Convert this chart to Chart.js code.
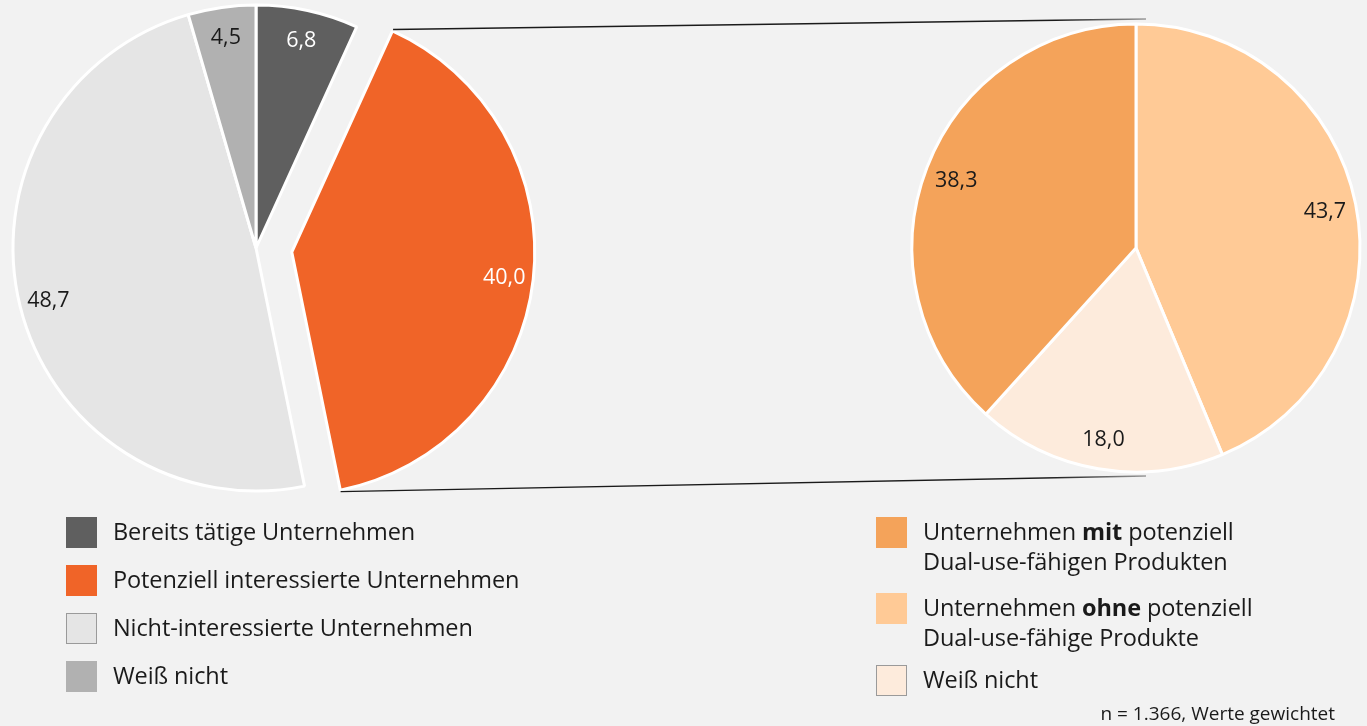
<!DOCTYPE html>
<html lang="de">
<head>
<meta charset="utf-8">
<script src="https://cdn.jsdelivr.net/npm/chart.js@4"></script>
<style>
  html,body{margin:0;padding:0;background:#f2f2f2;}
  body{width:1367px;height:726px;position:relative;overflow:hidden;font-family:"Open Sans",sans-serif;color:#1a1a1a;}
  .wrap{position:absolute;left:0;top:0;width:1367px;height:726px;}
  .legend{position:absolute;font-size:23.5px;letter-spacing:-0.1px;}
  .legend .item{position:absolute;left:0;white-space:nowrap;}
  .legend .box{position:absolute;left:0;top:0;width:29px;height:29px;border:1px solid;}
  .legend .txt{position:absolute;left:47px;top:-1px;line-height:30px;}
  #note{position:absolute;right:32px;top:700px;font-size:19px;line-height:26px;}
</style>
</head>
<body>
<div class="wrap"><canvas id="chartL"></canvas></div>
<div class="wrap"><canvas id="chartR"></canvas></div>
<div class="legend" id="legL" style="left:66px;top:517px;"></div>
<div class="legend" id="legR" style="left:876px;top:517px;"></div>
<div id="note">n = 1.366, Werte gewichtet</div>
<script>
// left pie: all companies
const leftLabels = ["Bereits tätige Unternehmen","Potenziell interessierte Unternehmen","Nicht-interessierte Unternehmen","Weiß nicht"];
const leftValues = [6.8, 40.0, 48.7, 4.5];
const leftColors = ["#5f5f5f","#f06428","#e5e5e5","#b1b1b1"];
const leftBorders = ["#5f5f5f","#f06428","#9a9a9a","#b1b1b1"];
const leftTextColors = ["#ffffff","#ffffff","#1a1a1a","#1a1a1a"];
// right pie: breakdown of the interested ones (clockwise from top)
const rightLabels = [["Unternehmen ","ohne"," potenziell","Dual-use-fähige Produkte"],["Weiß nicht","","",""],["Unternehmen ","mit"," potenziell","Dual-use-fähigen Produkten"]];
const rightValues = [43.7, 18.0, 38.3];
const rightColors = ["#ffca96","#fdebdc","#f4a35a"];
const rightBorders = ["#ffca96","#9a9a9a","#f4a35a"];
const rightLegendOrder = [2, 0, 1];
const explode = [0, 36, 0, 0];

Chart.defaults.font.family = "'Open Sans', sans-serif";

function fmt(v){ return v.toFixed(1).replace(".", ","); }

// shift exploded slices after every update
const explodePlugin = {
  id: "explode",
  afterDatasetUpdate(chart, args, opts){
    if ( !opts.offsets ) return;
    let meta = chart.getDatasetMeta(args.index);
    for (let i=0;i<meta.data.length;++i) {
      let d = opts.offsets[i] || 0;
      if ( !d ) continue;
      let el = meta.data[i];
      let mid = (el.startAngle + el.endAngle)/2;
      el.x += Math.cos(mid)*d;
      el.y += Math.sin(mid)*d;
    }
  }
};

const valueLabels = {
  id: "valueLabels",
  afterDatasetsDraw(chart, args, opts){
    let ctx = chart.ctx;
    let meta = chart.getDatasetMeta(0);
    let vals = chart.data.datasets[0].data;
    ctx.save();
    ctx.font = "21.5px 'Open Sans', sans-serif";
    ctx.textAlign = "center";
    ctx.textBaseline = "middle";
    for (let i=0;i<meta.data.length;++i) {
      let el = meta.data[i];
      let mid = (el.startAngle + el.endAngle)/2;
      let r = el.outerRadius*opts.pos;
      ctx.fillStyle = opts.colors[i];
      ctx.fillText(fmt(vals[i]), el.x + Math.cos(mid)*r, el.y + Math.sin(mid)*r + 2);
    }
    ctx.restore();
  }
};

const chartL = new Chart(document.getElementById("chartL"), {
  type: "pie",
  data: { labels: leftLabels, datasets: [{ data: leftValues, backgroundColor: leftColors, borderColor: "#ffffff", borderWidth: 3, clip: false }] },
  options: {
    responsive: true, maintainAspectRatio: false, animation: false, radius: 243,
    layout: { padding: { left: 12, top: 4, right: 867, bottom: 234 } },
    plugins: {
      legend: { display: false }, tooltip: { enabled: false },
      explode: { offsets: explode },
      valueLabels: { pos: 0.88, colors: leftTextColors }
    }
  },
  plugins: [explodePlugin, valueLabels]
});

// connector lines from the exploded slice to the right pie
const connectors = {
  id: "connectors",
  beforeDatasetsDraw(chart){
    let el = chartL.getDatasetMeta(0).data[1];
    let rc = chart.getDatasetMeta(0).data[0];
    let R = el.outerRadius + 1.5;
    let pts = [
      [el.x + Math.cos(el.startAngle)*R, el.y + Math.sin(el.startAngle)*R, rc.x + 10, rc.y - rc.outerRadius - 5],
      [el.x + Math.cos(el.endAngle)*R, el.y + Math.sin(el.endAngle)*R, rc.x + 10, rc.y + rc.outerRadius + 4]
    ];
    let ctx = chart.ctx;
    ctx.save();
    ctx.lineWidth = 1.4;
    for (let p of pts) {
      let g = ctx.createLinearGradient(p[0], 0, p[2], 0);
      g.addColorStop(0, "#1a1a1a");
      g.addColorStop(0.88, "#1a1a1a");
      g.addColorStop(1, "#9a9a9a");
      ctx.strokeStyle = g;
      ctx.beginPath(); ctx.moveTo(p[0], p[1]); ctx.lineTo(p[2], p[3]); ctx.stroke();
    }
    ctx.restore();
  }
};

const chartR = new Chart(document.getElementById("chartR"), {
  type: "pie",
  data: { labels: rightLabels.map(l => l.join("")), datasets: [{ data: rightValues, backgroundColor: rightColors, borderColor: "#ffffff", borderWidth: 3, clip: false }] },
  options: {
    responsive: true, maintainAspectRatio: false, animation: false, radius: 224,
    layout: { padding: { left: 911, top: 23, right: 6, bottom: 253 } },
    plugins: {
      legend: { display: false }, tooltip: { enabled: false },
      valueLabels: { pos: 0.86, colors: ["#1a1a1a","#1a1a1a","#1a1a1a"] }
    }
  },
  plugins: [connectors, valueLabels]
});

// html legends
function legendItem(top, color, border, html){
  return '<div class="item" style="top:'+top+'px"><div class="box" style="background:'+color+';border-color:'+border+'"></div><div class="txt">'+html+'</div></div>';
}
let h = "";
for (let i=0;i<leftLabels.length;++i) h += legendItem(i*48, leftColors[i], leftBorders[i], leftLabels[i]);
document.getElementById("legL").innerHTML = h;
h = "";
const rightTops = [0, 76, 148];
for (let k=0;k<rightLegendOrder.length;++k) {
  let i = rightLegendOrder[k];
  let l = rightLabels[i];
  let txt = l[0] + (l[1] ? "<b>"+l[1]+"</b>" : "") + l[2] + (l[3] ? "<br>"+l[3] : "");
  h += legendItem(rightTops[k], rightColors[i], rightBorders[i], txt);
}
document.getElementById("legR").innerHTML = h;
</script>
</body>
</html>
